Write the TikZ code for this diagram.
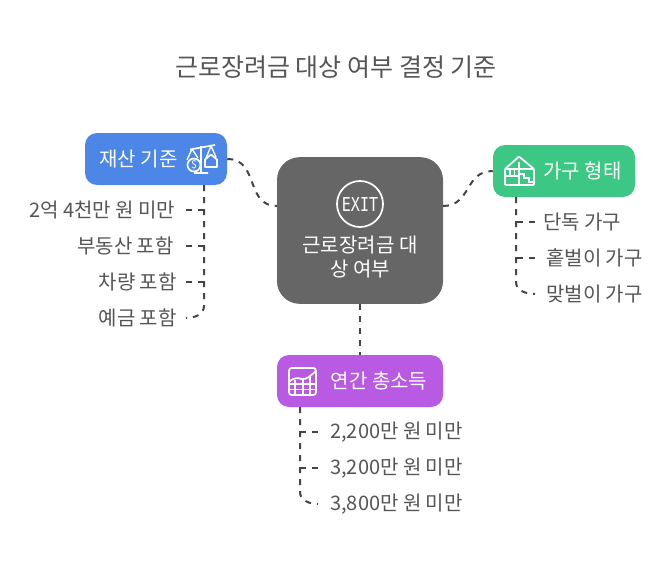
\documentclass[tikz,border=0pt]{standalone}
\usepackage{fontspec}
\setmainfont{Noto Sans CJK KR}
\newfontfamily\exitfont{DejaVu Sans Mono}
\definecolor{assetblue}{HTML}{4C87E8}
\definecolor{homegreen}{HTML}{3DC785}
\definecolor{incomepurple}{HTML}{B85AE2}
\definecolor{maingray}{HTML}{666666}
\definecolor{textgray}{HTML}{555555}
\definecolor{linegray}{HTML}{444444}
\begin{document}
\begin{tikzpicture}[
    x=0.75pt, y=-0.75pt,
    topic/.style={rounded corners=9pt, minimum width=106.5pt, minimum height=39pt, inner sep=0pt},
    topiclabel/.style={text=white, font=\fontsize{15pt}{18pt}\selectfont},
    item/.style={inner sep=0pt, text=textgray, font=\fontsize{15pt}{18pt}\selectfont},
    link/.style={draw=linegray, line width=1.5pt, dash pattern=on 4.5pt off 4.5pt},
    icon/.style={draw=white, line width=1.3pt, line join=round},
    thinicon/.style={draw=white, line width=1pt},
]
\useasboundingbox (0,0) rectangle (672,564);

\node[text=textgray, font=\fontsize{18.75pt}{22pt}\selectfont] (title) at (336,67) {근로장려금 대상 여부 결정 기준};

\node[fill=maingray, rounded corners=17pt, minimum width=124.5pt, minimum height=110pt, inner sep=0pt] (main) at (360,230.5) {};
\node[text=white, align=center, font=\fontsize{15pt}{18pt}\selectfont] (mainlabel) at (360,257.5) {근로장려금 대\\상 여부};
\node[circle, draw=white, line width=1.3pt, minimum size=34.5pt, inner sep=0pt, text=white, font=\exitfont\fontsize{14.4pt}{15pt}\selectfont] (exit) at (360,204) {\addfontfeature{FakeStretch=0.78}EXIT};

\node[topic, fill=assetblue] (asset) at (156,159) {};
\node[topic, fill=homegreen] (home) at (564,171) {};
\node[topic, fill=incomepurple, minimum width=124.5pt] (income) at (360,381) {};

\node[topiclabel] (assetlabel) at (138.5,159) {재산 기준};
\node[topiclabel] (homelabel) at (582.5,171) {가구 형태};
\node[topiclabel] (incomelabel) at (379,381) {연간 총소득};

% left branch
\node[item, anchor=east] (asset1) at (175.5,210) {2억 4천만 원 미만};
\node[item, anchor=east] (asset2) at (174,246) {부동산 포함};
\node[item, anchor=east] (asset3) at (177,282) {차량 포함};
\node[item, anchor=east] (asset4) at (177,318) {예금 포함};

% right branch
\node[item, anchor=west] (home1) at (543,222) {단독 가구};
\node[item, anchor=west] (home2) at (546,258) {홑벌이 가구};
\node[item, anchor=west] (home3) at (546,294) {맞벌이 가구};

% bottom branch
\node[item, anchor=west] (income1) at (330,432) {2,200만 원 미만};
\node[item, anchor=west] (income2) at (330,468) {3,200만 원 미만};
\node[item, anchor=west] (income3) at (330,504) {3,800만 원 미만};

\coordinate (mainleft) at (277,206);
\coordinate (mainright) at (443,206);
\coordinate (assetroot) at (204,185);
\coordinate (homeroot) at (516,197);
\coordinate (incomeroot) at (300,407);

\draw[link] (asset.east) to[out=0, in=180, looseness=1.2] (mainleft);
\draw[link] (mainright) to[out=0, in=180, looseness=1.2] (home.west);
\draw[link] (main.south) -- (income.north);

\draw[link] (assetroot) -- ([yshift=9pt]assetroot |- asset4) to[out=-90, in=0] ([xshift=6.75pt]asset4.east);
\draw[link] ([xshift=7.9pt]asset1.east) -- (assetroot |- asset1);
\draw[link] ([xshift=9pt]asset2.east) -- (assetroot |- asset2);
\draw[link] ([xshift=6.75pt]asset3.east) -- (assetroot |- asset3);

\draw[link] (homeroot) -- ([yshift=9pt]homeroot |- home3) to[out=-90, in=180] ([xshift=-8.25pt]home3.west);
\draw[link] ([xshift=-6pt]home1.west) -- (homeroot |- home1);
\draw[link] ([xshift=-8.25pt]home2.west) -- (homeroot |- home2);

\draw[link] (incomeroot) -- ([yshift=9pt]incomeroot |- income3) to[out=-90, in=180] ([xshift=-9pt]income3.west);
\draw[link] ([xshift=-9pt]income1.west) -- (incomeroot |- income1);
\draw[link] ([xshift=-9pt]income2.west) -- (incomeroot |- income2);

% scale icon
\draw[icon] (201,146) -- (201,173) (194,173) -- (208,173) (190,149.5) -- (215,145);
\draw[thinicon] (192,149) -- (187,160) (192,149) -- (198,158) (211,146) -- (206,158) (211,146) -- (216,157);
\draw[icon] (194,165) circle (6.5);
\node[text=white, inner sep=0pt, font=\fontsize{8pt}{8pt}\selectfont] (dollar) at (194,165) {\$};
\draw[icon] (205,167) -- (205,159.5) -- (211,154.5) -- (217,159.5) -- (217,167) -- cycle;

% house icon
\draw[icon, rounded corners=0.6pt] (505,169) -- (519,156.5) -- (534,169) -- (534,185) -- (505,185) -- cycle;
\draw[thinicon] (505,169) -- (534,169) (519,162) -- (519,185) (505,176) -- (519,176) (510,169) -- (510,176) (514.5,169) -- (514.5,176);
\draw[thinicon] (519,174) -- (524,174) -- (524,178) -- (529,178) -- (529,182) -- (534,182);

% chart icon
\draw[icon, rounded corners=2pt] (289,368) rectangle (316,395);
\draw[thinicon] (289,384) -- (316,384) (289,389.5) -- (316,389.5) (295,380) -- (295,395) (303,379) -- (303,395) (310,376) -- (310,395);
\draw[icon] (289,382) .. controls (294,377) and (298,378) .. (302,379) .. controls (307,380) and (311,375) .. (316,371);
\end{tikzpicture}
\end{document}
